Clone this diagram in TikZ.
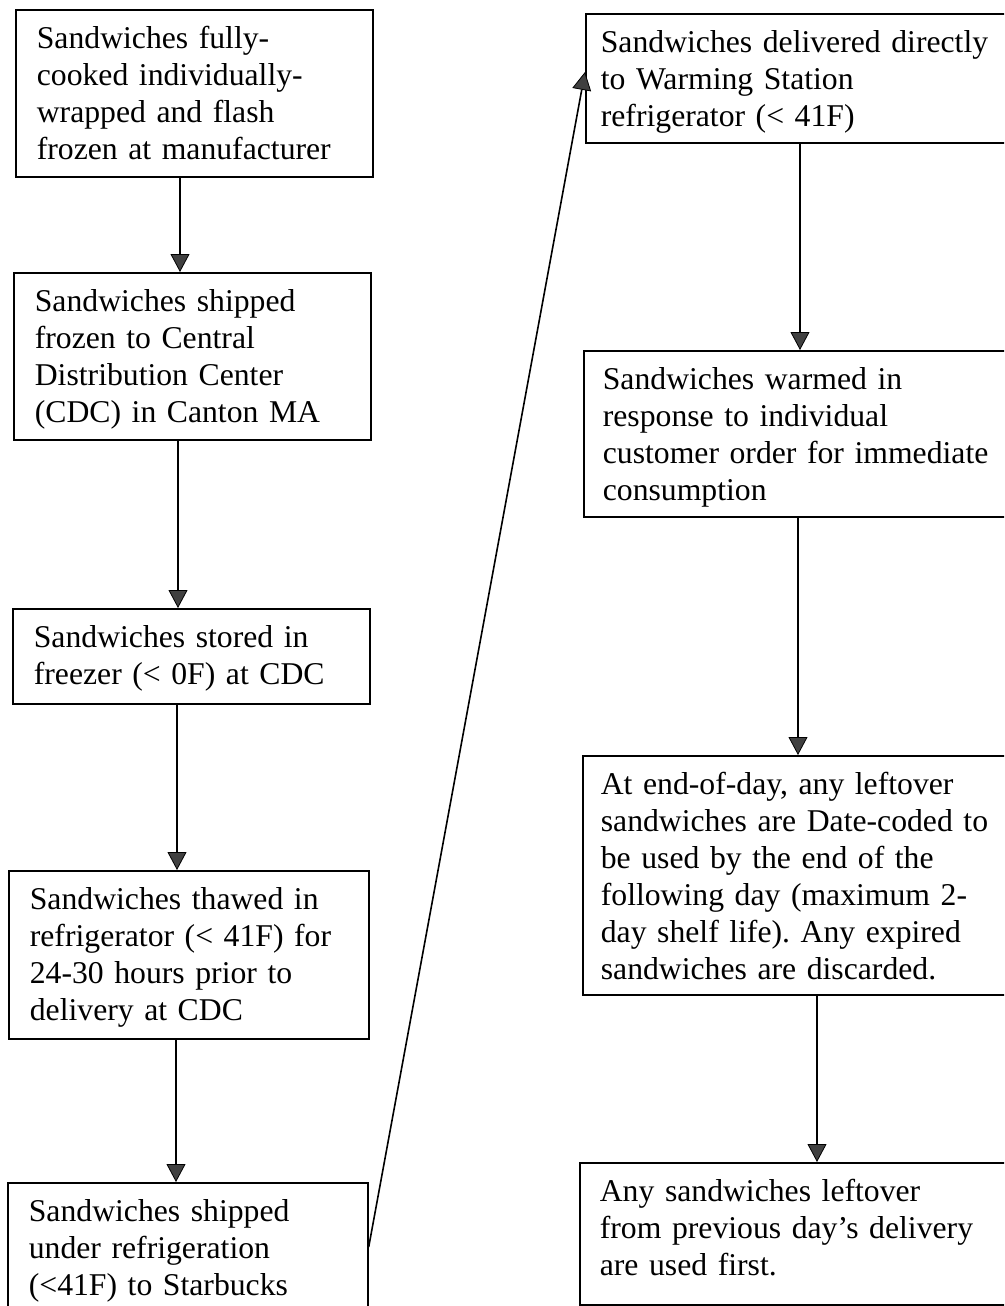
\documentclass[tikz,border=0pt]{standalone}
\usepackage{fontspec}
\setmainfont{Liberation Serif}
\usetikzlibrary{arrows.meta}
\frenchspacing
\newcommand{\boxlines}[1]{\begin{tabular}[t]{@{}l@{}}#1\end{tabular}}
\begin{document}
\begin{tikzpicture}[x=1pt,y=-1pt,
  flowbox/.style={draw, line width=1.7pt, rectangle, anchor=north west, align=left,
    inner xsep=21pt, inner ysep=0pt, text height=39pt,
    font=\fontsize{31.7}{37}\selectfont\frenchspacing},
  arr/.style={line width=1.6pt, -{Triangle[width=19pt,length=18pt,fill=black!75,line width=0.8pt]}}]
\useasboundingbox (0,0) rectangle (1004,1306);
\clip (0,0) rectangle (1004,1306);
\node[flowbox, text width=315pt, text depth=128pt] (b1) at (15,9)
  {\boxlines{Sandwiches fully-\\cooked individually-\\wrapped and flash\\frozen at manufacturer}};
\node[flowbox, text width=315pt, text depth=128pt] (b2) at (13,272)
  {\boxlines{Sandwiches shipped\\frozen to Central\\Distribution Center\\(CDC) in Canton MA}};
\node[flowbox, text width=315pt, text depth=56pt] (b3) at (12,608)
  {\boxlines{Sandwiches stored in\\freezer (< 0F) at CDC}};
\node[flowbox, text width=318pt, text depth=129pt] (b4) at (8,870)
  {\boxlines{Sandwiches thawed in\\refrigerator (< 41F) for\\24-30 hours prior to\\delivery at CDC}};
\node[flowbox, text width=318pt, text depth=101pt] (b5) at (7,1182)
  {\boxlines{Sandwiches shipped\\under refrigeration\\(<41F) to Starbucks}};
\node[flowbox, inner xsep=15pt, text width=470pt, text depth=90pt] (b6) at (585,13)
  {\boxlines{Sandwiches delivered directly\\to Warming Station\\refrigerator (< 41F)}};
\node[flowbox, inner xsep=19pt, text width=462pt, text depth=127pt] (b7) at (583,350)
  {\boxlines{Sandwiches warmed in\\response to individual\\customer order for immediate\\consumption}};
\node[flowbox, inner xsep=18pt, text width=464pt, text depth=200pt] (b8) at (582,755)
  {\boxlines{At end-of-day, any leftover\\sandwiches are Date-coded to\\be used by the end of the\\following day (maximum 2-\\day shelf life). Any expired\\sandwiches are discarded.}};
\node[flowbox, inner xsep=20pt, text width=460pt, text depth=103pt] (b9) at (579,1162)
  {\boxlines{Any sandwiches leftover\\from previous day’s delivery\\are used first.}};
\draw[arr] (b1.south -| 180,0) -- (b2.north -| 180,0);
\draw[arr] (b2.south -| 178,0) -- (b3.north -| 178,0);
\draw[arr] (b3.south -| 177,0) -- (b4.north -| 177,0);
\draw[arr] (b4.south -| 176,0) -- (b5.north -| 176,0);
\draw[arr] (b5.east |- 0,1247) -- (b6.west |- 0,72);
\draw[arr] (b6.south -| 800,0) -- (b7.north -| 800,0);
\draw[arr] (b7.south -| 798,0) -- (b8.north -| 798,0);
\draw[arr] (b8.south -| 817,0) -- (b9.north -| 817,0);
\end{tikzpicture}
\end{document}
